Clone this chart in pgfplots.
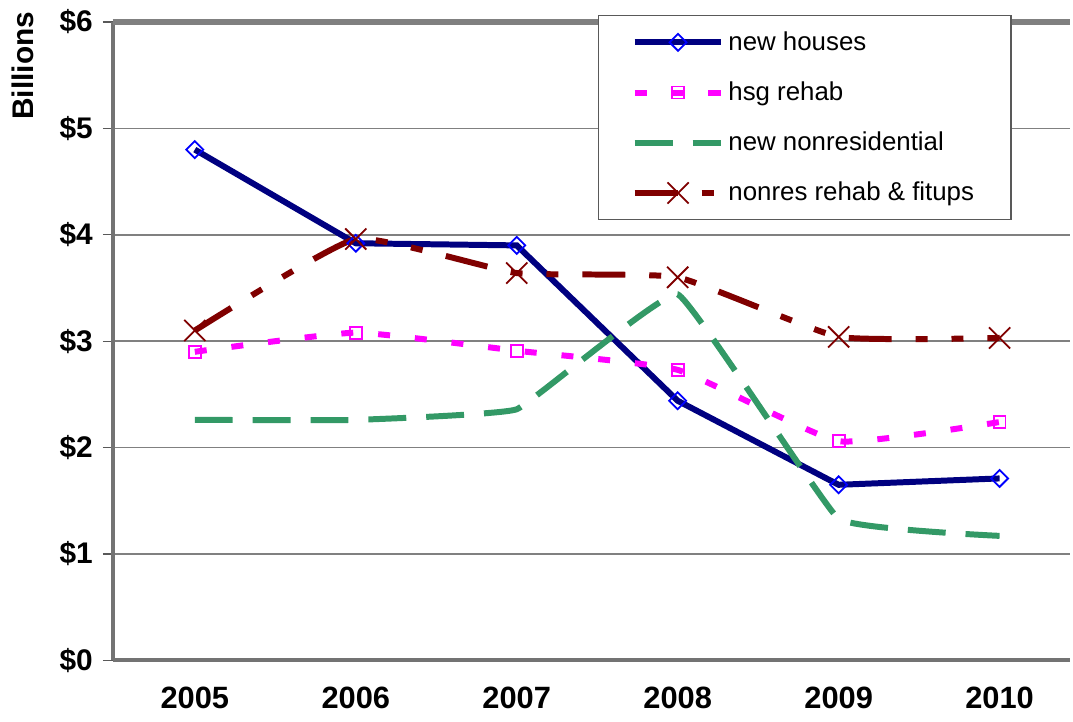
\documentclass[border=0pt]{standalone}
\usepackage{pgfplots}
\pgfplotsset{compat=1.18}
\usepackage{fontspec}
\setmainfont{Liberation Sans}

\definecolor{navyline}{RGB}{0,0,128}
\definecolor{mkblue}{RGB}{0,0,255}
\definecolor{hsgpink}{RGB}{255,0,255}
\definecolor{nrgreen}{RGB}{51,153,102}
\definecolor{nrred}{RGB}{128,0,0}

\begin{document}
\begin{tikzpicture}
	\begin{axis}[
		scale only axis,
		width=480bp, height=320bp,
		xmin=2004.49, xmax=2010.44,
		ymin=0, ymax=6,
		axis x line=bottom, axis y line=left,
		axis line style={draw=gray!90!black, line width=2bp, -},
		xtick={2005,2006,2007,2008,2009,2010},
		xticklabels={2005,2006,2007,2008,2009,2010},
		ytick={0,1,2,3,4,5,6},
		yticklabels={\$0,\$1,\$2,\$3,\$4,\$5,\$6},
		x tick style={draw=none},
		y tick style={draw=gray!70!black, line width=0.6bp},
		tick align=outside,
		major tick length=5bp,
		ymajorgrids,
		grid style={draw=gray, line width=0.8bp},
		extra y ticks={6},
		extra y tick labels={},
		extra y tick style={grid style={draw=gray, line width=2.6bp}, major tick length=0pt},
		ticklabel style={font=\fontsize{15}{18}\selectfont\bfseries},
		yticklabel style={xshift=-1.5bp},
		xticklabel style={font=\fontsize{15.5}{18}\selectfont\bfseries, yshift=-5bp},
		legend style={at={(1,1)}, anchor=north east, xshift=-29.5bp, yshift=3.5bp,
			draw=gray!70!black, line width=0.6bp, font=\fontsize{13}{15}\selectfont,
			inner xsep=16.5bp, inner ysep=6bp, row sep=10.3bp,
			cells={anchor=west, inner xsep=1.8bp}},
		legend image code/.code={
			\draw[mark repeat=2, mark phase=2, #1]
				plot coordinates {(0bp,0bp) (21.75bp,0bp) (43.5bp,0bp)};
		},
		clip=false,
		]
		\coordinate (bl) at (rel axis cs:0,0);
		\coordinate (tr) at (rel axis cs:1,1);

		\addplot[navyline, line width=3bp,
			mark=square, mark size=3bp,
			mark options={draw=mkblue, fill=white, line width=0.9bp, solid, rotate=45}]
		coordinates {(2005,4.80) (2006,3.92) (2007,3.90) (2008,2.44) (2009,1.65) (2010,1.71)};
		\addlegendentry{new houses}

		\addplot[hsgpink, line width=3bp, dash pattern=on 6bp off 12.5bp,
			smooth, tension=0.25,
			mark=square, mark size=3bp,
			mark options={draw=hsgpink, fill=white, line width=0.9bp, solid}]
		coordinates {(2005,2.90) (2006,3.08) (2007,2.91) (2008,2.73) (2009,2.06) (2010,2.24)};
		\addlegendentry{hsg rehab}

		\addplot[nrgreen, line width=3bp, dash pattern=on 19bp off 10bp,
			smooth, tension=0.15]
		coordinates {(2005,2.26) (2006,2.26) (2007,2.36) (2008,3.44) (2009,1.33) (2010,1.17)};
		\addlegendentry{new nonresidential}

		\addplot[nrred, line width=3bp,
			dash pattern=on 21.5bp off 12bp on 6bp off 12bp on 6bp off 12bp,
			smooth, tension=0.25,
			mark=x, mark size=7.5bp,
			mark options={draw=nrred, line width=0.9bp, solid}]
		coordinates {(2005,3.10) (2006,3.96) (2007,3.64) (2008,3.60) (2009,3.04) (2010,3.03)};
		\addlegendentry{nonres rehab \& fitups}
	\end{axis}
	\node[rotate=90, anchor=east, font=\fontsize{15}{18}\selectfont\bfseries]
		at ([xshift=-45.25bp, yshift=8.5bp]tr -| bl) {Billions};
	\path ([shift={(-56.5bp,-30.5bp)}]bl) rectangle ([shift={(0bp,11bp)}]tr);
\end{tikzpicture}
\end{document}
